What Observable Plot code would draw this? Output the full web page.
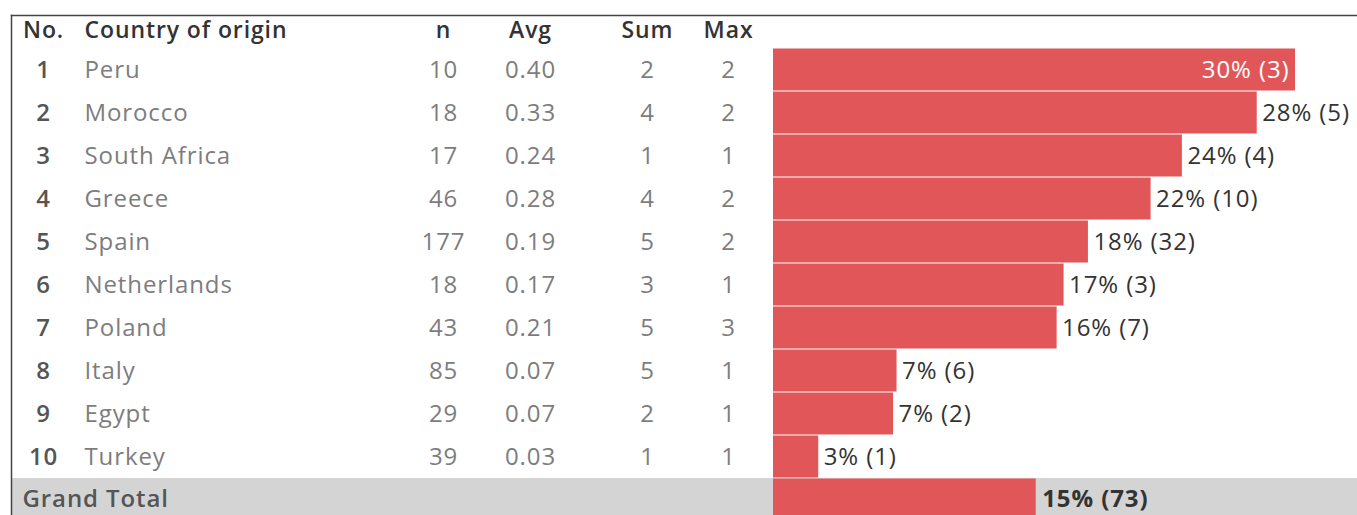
<!DOCTYPE html>
<html>
<head>
<meta charset="utf-8">
<script src="https://cdn.jsdelivr.net/npm/d3@7"></script>
<script src="https://cdn.jsdelivr.net/npm/@observablehq/plot@0.6"></script>
<style>
  html, body { margin: 0; padding: 0; background: #fff; }
  svg text { letter-spacing: 0.9px; }
</style>
</head>
<body>
<div id="chart"></div>
<script>
// ---- data ----
const ranks = [1, 2, 3, 4, 5, 6, 7, 8, 9, 10];
const countries = ["Peru", "Morocco", "South Africa", "Greece", "Spain", "Netherlands", "Poland", "Italy", "Egypt", "Turkey"];
const nValues = [10, 18, 17, 46, 177, 18, 43, 85, 29, 39];
const avgValues = ["0.40", "0.33", "0.24", "0.28", "0.19", "0.17", "0.21", "0.07", "0.07", "0.03"];
const sumValues = [2, 4, 1, 4, 5, 3, 5, 5, 2, 1];
const maxValues = [2, 2, 1, 2, 2, 1, 3, 1, 1, 1];
const pctValues = [0.300, 0.278, 0.235, 0.217, 0.181, 0.167, 0.163, 0.071, 0.069, 0.026];
const pctLabels = ["30%", "28%", "24%", "22%", "18%", "17%", "16%", "7%", "7%", "3%"];
const countValues = [3, 5, 4, 10, 32, 3, 7, 6, 2, 1];
const headers = ["No.", "Country of origin", "n", "Avg", "Sum", "Max"];
const totalLabel = "Grand Total";
const totalPct = 0.151;
const totalPctLabel = "15%";
const totalCount = 73;

const rows = countries.map((c, i) => ({
  rank: ranks[i], country: c, n: nValues[i], avg: avgValues[i],
  sum: sumValues[i], max: maxValues[i], pct: pctValues[i],
  label: `${pctLabels[i]} (${countValues[i]})`
}));
const total = [{country: totalLabel, pct: totalPct, label: `${totalPctLabel} (${totalCount})`}];

// layout constants
const W = 1357, H = 515;
const barLeft = 773;
const pxPerUnit = 1740;
const headerRow = [{}];
const colDx = {rank: 43 - barLeft, country: 84 - barLeft, n: 443 - barLeft, avg: 530 - barLeft, sum: 647 - barLeft, max: 728 - barLeft, total: 22 - barLeft};
const gray = "#7d7d7d";
const dark = "#333";
const inside = d => d.pct > 0.29;
const headerAnchor = ["middle", "start", "middle", "middle", "middle", "middle"];
const headerDx = [colDx.rank, colDx.country, colDx.n, colDx.avg, colDx.sum, colDx.max];

const chart = Plot.plot({
  width: W, height: H,
  marginLeft: barLeft, marginRight: 0, marginTop: 47, marginBottom: 0,
  x: {domain: [0, (W - barLeft) / pxPerUnit], axis: null},
  y: {domain: [...countries, totalLabel], range: [47, 47 + 43.2 * 11], axis: null, padding: 0},
  style: {fontFamily: "'Open Sans', sans-serif", fontSize: "24px", background: "white", overflow: "hidden"},
  marks: [
    Plot.cell([totalLabel], {y: d => d, fill: "#d4d4d4", insetLeft: -(barLeft - 12)}),
    Plot.barX(rows, {x: "pct", y: "country", fill: "#e15759", insetTop: 0.5, insetBottom: 0.5}),
    Plot.barX(total, {x: "pct", y: "country", fill: "#e15759", insetTop: 0.5}),
    // headers
    ...headers.map((h, i) => Plot.text(headerRow, {
      frameAnchor: "top-left", text: () => h, dx: headerDx[i], dy: -17,
      fill: dark, fontWeight: 600, textAnchor: headerAnchor[i], lineAnchor: "middle", fontSize: 23
    })),
    // table body
    Plot.text(rows, {y: "country", frameAnchor: "left", text: d => String(d.rank), dx: colDx.rank, textAnchor: "middle", fill: "#555", fontWeight: 600}),
    Plot.text(rows, {y: "country", frameAnchor: "left", text: "country", dx: colDx.country, textAnchor: "start", fill: gray}),
    Plot.text(rows, {y: "country", frameAnchor: "left", text: d => String(d.n), dx: colDx.n, textAnchor: "middle", fill: gray}),
    Plot.text(rows, {y: "country", frameAnchor: "left", text: "avg", dx: colDx.avg, textAnchor: "middle", fill: gray}),
    Plot.text(rows, {y: "country", frameAnchor: "left", text: d => String(d.sum), dx: colDx.sum, textAnchor: "middle", fill: gray}),
    Plot.text(rows, {y: "country", frameAnchor: "left", text: d => String(d.max), dx: colDx.max, textAnchor: "middle", fill: gray}),
    Plot.text(total, {y: "country", frameAnchor: "left", text: "country", dx: colDx.total, textAnchor: "start", fill: "#555", fontWeight: 600, dy: -1}),
    // bar labels
    Plot.text(rows.filter(inside), {x: "pct", y: "country", text: "label", textAnchor: "end", dx: -6, fill: "white"}),
    Plot.text(rows.filter(d => !inside(d)), {x: "pct", y: "country", text: "label", textAnchor: "start", dx: 5, fill: dark}),
    Plot.text(total, {x: "pct", y: "country", text: "label", textAnchor: "start", dx: 6, fill: dark, fontWeight: 700, dy: -1}),
    // table borders
    Plot.frame({anchor: "top", insetTop: -32, insetLeft: -(barLeft - 11), stroke: "#444", strokeWidth: 1.5}),
    Plot.frame({anchor: "left", insetTop: -32, insetLeft: -(barLeft - 11), insetBottom: -20, stroke: "#444", strokeWidth: 1.5})
  ]
});
document.getElementById("chart").appendChild(chart);
</script>
</body>
</html>
